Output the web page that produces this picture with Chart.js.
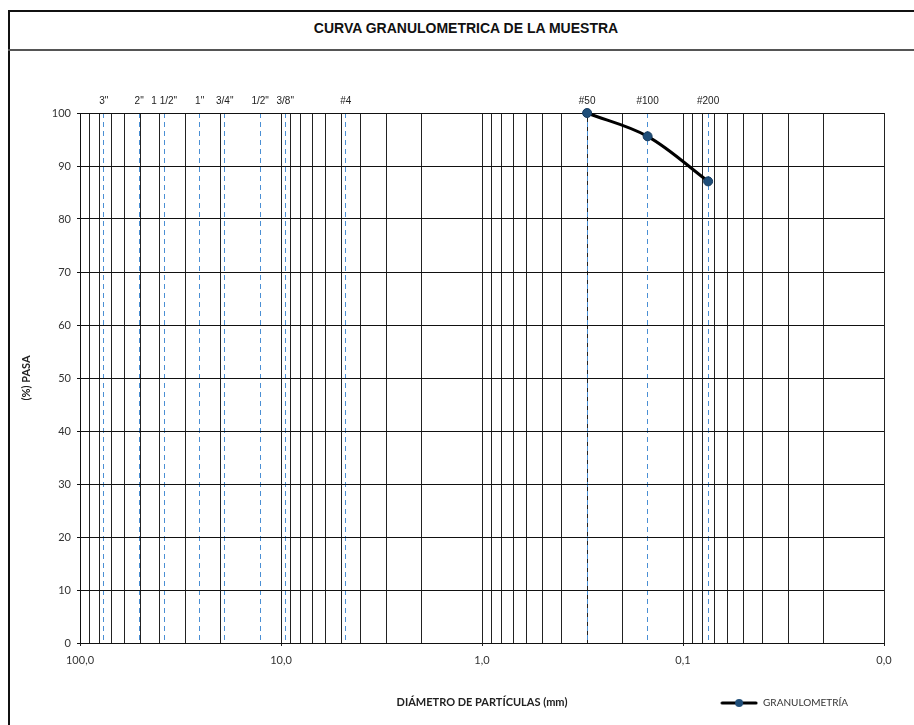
<!DOCTYPE html>
<html>
<head>
<meta charset="utf-8">
<title>Curva granulometrica</title>
<script src="https://cdn.jsdelivr.net/npm/chart.js@4.4.1/dist/chart.umd.min.js"></script>
<style>
    html, body { margin: 0; padding: 0; background: #fff; }
    body { width: 914px; height: 725px; position: relative; overflow: hidden; }
    .frame { position: absolute; left: 8px; top: 10px; width: 940px; height: 760px; border: 2px solid #111; }
    .title-rule { position: absolute; left: 8px; top: 49px; width: 940px; border-top: 2px solid #555; }
    .title { position: absolute; left: 0; top: 20px; width: 932px; line-height: 18px; text-align: center;
             font: bold 14px "Liberation Sans Narrow", "Liberation Sans", Arial, sans-serif; color: #111; }
    canvas { position: absolute; left: 0; top: 0; }
</style>
</head>
<body>
<div class="frame"></div>
<div class="title-rule"></div>
<div class="title">CURVA GRANULOMETRICA DE LA MUESTRA</div>
<canvas id="granChart" width="914" height="725"></canvas>
<script>
// sieve openings (mm) and their names, shown on the top axis
const sieveSizes = [76.2, 50.8, 38.1, 25.4, 19.05, 12.7, 9.525, 4.76, 0.3, 0.15, 0.075];
const sieveNames = ['3"', '2"', '1 1/2"', '1"', '3/4"', '1/2"', '3/8"', '#4', '#50', '#100', '#200'];

// measured sample
const sampleDiameters = [0.3, 0.15, 0.075];
const samplePassing = [100, 95.6, 87.1];

// log grid of the lower axis (mm)
const gridDiameters = [
    100, 90, 80, 70, 60, 50, 40, 30, 20,
    10, 9, 8, 7, 6, 5, 4, 3, 2,
    1, 0.9, 0.8, 0.7, 0.6, 0.5, 0.4, 0.3, 0.2,
    0.1, 0.09, 0.08, 0.07, 0.06, 0.05, 0.04, 0.03, 0.02,
    0.01
];
const passingTicks = [0, 10, 20, 30, 40, 50, 60, 70, 80, 90, 100];

function isDecade(v) {
    const l = Math.log10(v);
    return Math.abs(l - Math.round(l)) < 1e-9;
}

function formatDiameter(v) {
    return v.toFixed(1).replace('.', ',');
}

// little line + dot for the legend
function legendGlyph() {
    const c = document.createElement('canvas');
    c.width = 38;
    c.height = 10;
    const g = c.getContext('2d');
    g.strokeStyle = '#000';
    g.lineWidth = 3;
    g.lineCap = 'round';
    g.beginPath();
    g.moveTo(2, 5);
    g.lineTo(36, 5);
    g.stroke();
    g.fillStyle = '#1f4e79';
    g.beginPath();
    g.arc(19, 5, 4, 0, Math.PI * 2);
    g.fill();
    return c;
}

// legend sits on the same row as the x title, a bit left of the edge
const legendShift = {
    id: 'legendShift',
    afterLayout(chart) {
        const lg = chart.legend;
        lg.left -= 26;
        lg.right -= 26;
        lg.top -= 7;
        lg.bottom -= 7;
    }
};

Chart.defaults.font.family = 'Lato, "Open Sans", sans-serif';

const glyph = legendGlyph();
const ctx = document.getElementById('granChart').getContext('2d');

new Chart(ctx, {
    type: 'line',
    data: {
        datasets: [{
            label: 'GRANULOMETRÍA',
            data: sampleDiameters.map((d, i) => ({ x: d, y: samplePassing[i] })),
            borderColor: '#000',
            borderWidth: 3,
            tension: 0.35,
            pointRadius: 4.5,
            pointBackgroundColor: '#1f4e79',
            pointBorderColor: '#153a5e',
            pointBorderWidth: 1,
            clip: false,
            xAxisID: 'x',
            yAxisID: 'y'
        }]
    },
    options: {
        responsive: false,
        animation: false,
        events: [],
        layout: {
            padding: { left: 16, right: 30, top: 60, bottom: 0 }
        },
        scales: {
            x: {
                type: 'logarithmic',
                position: 'bottom',
                reverse: true,
                min: 0.01,
                max: 100,
                afterBuildTicks: s => { s.ticks = gridDiameters.map(v => ({ value: v })); },
                afterFit: s => { s.height = 52; },
                grid: {
                    color: '#222',
                    lineWidth: 1,
                    tickLength: 3,
                    tickColor: c => (c.tick && isDecade(c.tick.value)) ? '#222' : 'rgba(0,0,0,0)'
                },
                border: { color: '#111', width: 1 },
                ticks: {
                    autoSkip: false,
                    maxRotation: 0,
                    padding: 8,
                    color: '#333',
                    font: { size: 11 },
                    callback: v => isDecade(v) ? formatDiameter(v) : ''
                },
                title: {
                    display: true,
                    text: 'DIÁMETRO DE PARTÍCULAS (mm)',
                    color: '#222',
                    font: { size: 11, weight: 'bold' },
                    padding: { top: 0, bottom: -14 }
                }
            },
            x2: {
                type: 'logarithmic',
                position: 'top',
                reverse: true,
                min: 0.01,
                max: 100,
                afterBuildTicks: s => { s.ticks = sieveSizes.map(v => ({ value: v })); },
                afterFit: s => { s.height = 53; },
                grid: { color: '#4a8fd4', lineWidth: 1, drawTicks: false },
                border: { display: false, dash: [5, 4] },
                ticks: {
                    autoSkip: false,
                    maxRotation: 0,
                    padding: 6,
                    color: '#222',
                    font: { family: '"Liberation Sans", Arial, sans-serif', size: 10 },
                    callback: (v, i) => sieveNames[i]
                }
            },
            y: {
                min: 0,
                max: 100,
                afterBuildTicks: s => { s.ticks = passingTicks.map(v => ({ value: v })); },
                afterFit: s => { s.width = 64; },
                grid: { color: '#111', tickLength: 3 },
                border: { color: '#111' },
                ticks: { padding: 6, color: '#333', font: { size: 11 } },
                title: {
                    display: true,
                    text: '(%) PASA',
                    color: '#222',
                    font: { size: 11, weight: 'bold' },
                    padding: { top: 4, bottom: 0 }
                }
            }
        },
        plugins: {
            title: { display: false },
            tooltip: { enabled: false },
            legend: {
                position: 'bottom',
                align: 'end',
                labels: {
                    usePointStyle: true,
                    pointStyleWidth: 38,
                    padding: 10,
                    color: '#333',
                    font: { size: 10 },
                    generateLabels: chart => {
                        const items = Chart.defaults.plugins.legend.labels.generateLabels(chart);
                        items.forEach(it => { it.pointStyle = glyph; });
                        return items;
                    }
                }
            }
        }
    },
    plugins: [legendShift]
});
</script>
</body>
</html>
